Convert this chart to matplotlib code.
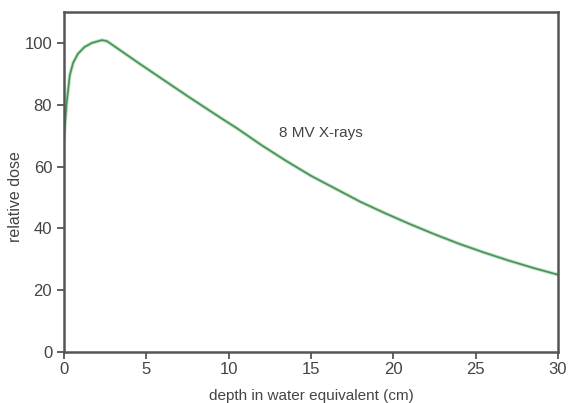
import numpy as np
import matplotlib.pyplot as plt

# depth dose curve for 8 MV photons
depth = [0, 0.15, 0.35, 0.55, 0.85, 1.25, 1.7, 2.3, 2.6, 3.5, 4.5, 5.5, 6.5,
         7.5, 8.5, 9.5, 10.5, 12, 13.5, 15, 16.5, 18, 19.5, 21, 22.5, 24,
         25.5, 27, 28.5, 30]
dose = [69, 80, 89.5, 93.5, 96.5, 98.7, 100, 100.9, 100.6, 97.3, 93.6, 90.0,
        86.4, 82.8, 79.3, 75.8, 72.4, 66.9, 61.8, 57.0, 52.8, 48.6, 44.9,
        41.4, 38.1, 35.0, 32.2, 29.6, 27.2, 25.0]

plt.rcParams['font.family'] = ['Liberation Sans Narrow', 'Liberation Sans', 'DejaVu Sans']

fig = plt.figure(figsize=(5.68, 4.03), dpi=100)
ax = fig.add_axes([64 / 568, 1 - 352 / 403, 494 / 568, 340 / 403])

ax.plot(depth, dose, color="#b8e4bc", lw=2.6, solid_capstyle="round")
ax.plot(depth, dose, color="#4f8d5f", lw=1.2)

ax.set_xlim(0, 30)
ax.set_ylim(0, 110)
ax.set_xticks(range(0, 31, 5))
ax.set_yticks(range(0, 101, 20))

for s in ax.spines.values():
    s.set_color("#555555")
    s.set_linewidth(1.8)

ax.tick_params(axis="both", direction="out", length=5, width=1.3,
               color="#555555", labelcolor="#444444", labelsize=12)
ax.tick_params(axis="x", pad=2)

ax.set_xlabel("depth in water equivalent (cm)", fontsize=11, color="#444444")
ax.set_ylabel("relative dose", fontsize=11.5, color="#444444")
ax.xaxis.set_label_coords(0.5, -0.109)
ax.yaxis.set_label_coords(-0.083, 0.456)

ax.text(15.6, 70.8, "8 MV X-rays", fontsize=11, color="#444444", ha="center", va="center")

fig.savefig("out.png", dpi=100)
